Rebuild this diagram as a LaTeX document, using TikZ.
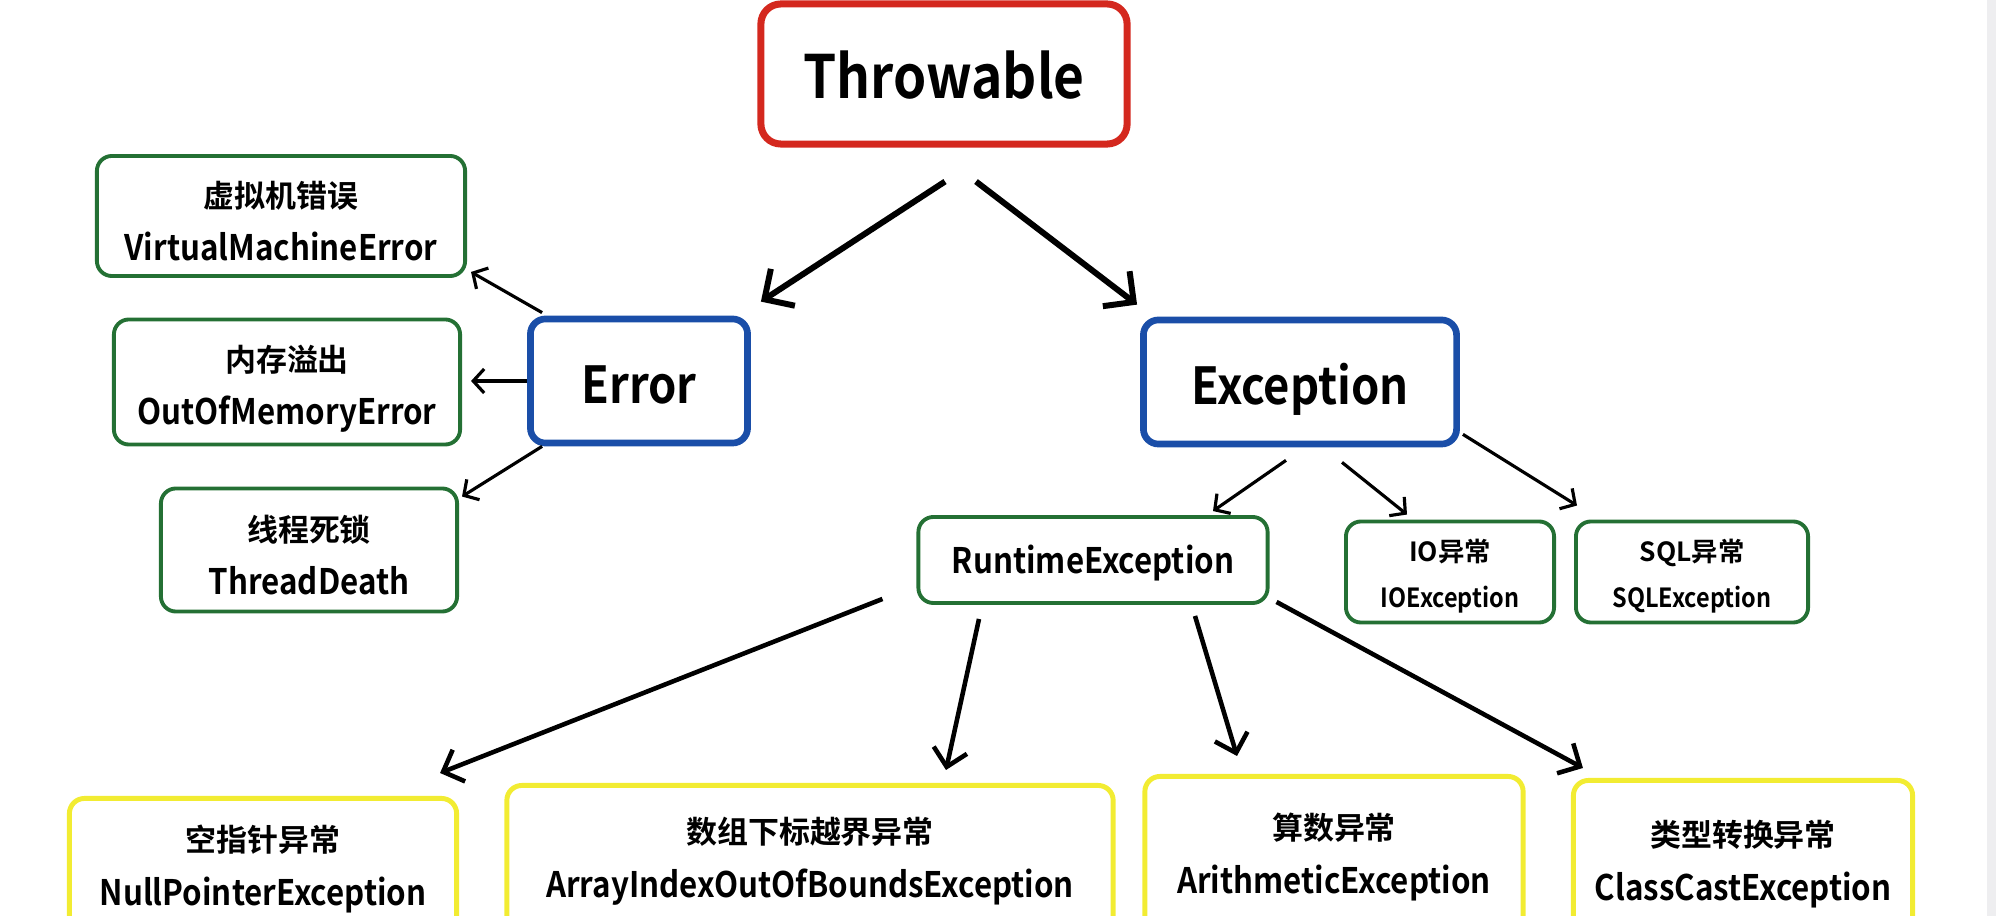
\documentclass[tikz,border=0pt]{standalone}
\usepackage{fontspec}
\setmainfont{Noto Sans CJK SC}[UprightFont=* Bold, FakeStretch=0.89]
\newfontfamily\cjkfont{Noto Sans CJK SC}[UprightFont=* Bold]
\usetikzlibrary{calc,arrows.meta}
\definecolor{thrRed}{RGB}{212,40,30}
\definecolor{errBlue}{RGB}{26,78,168}
\definecolor{subGreen}{RGB}{36,112,52}
\definecolor{rtYellow}{RGB}{242,236,50}
\definecolor{edgeGray}{RGB}{238,238,240}
\tikzset{
  box/.style={draw, rounded corners=0.15cm, inner sep=0pt, align=center},
  redbox/.style={box, text height=13.8pt, text depth=0pt, draw=thrRed, line width=2pt, rounded corners=0.2cm, font=\fontsize{17}{20}\selectfont},
  bluebox/.style={box, text height=12.6pt, text depth=0pt, draw=errBlue, line width=1.9pt, font=\fontsize{14.5}{17}\selectfont},
  greenbox/.style={box, draw=subGreen, line width=1.1pt, font=\fontsize{10}{15}\selectfont},
  smallbox/.style={box, draw=subGreen, line width=1.1pt, font=\fontsize{7.5}{13}\selectfont},
  yellowbox/.style={box, draw=rtYellow, line width=1.4pt, font=\fontsize{10}{15.5}\selectfont},
  bigarrow/.style={-{Straight Barb[length=0.22cm,width=0.44cm]}, line width=1.7pt},
  smallarrow/.style={-{Straight Barb[length=0.11cm,width=0.24cm]}, line width=0.9pt},
  midarrow/.style={-{Straight Barb[length=0.17cm,width=0.34cm]}, line width=1.3pt}
}
\newcommand{\gstrut}{\rule[-0.8pt]{0pt}{12pt}}
\newcommand{\ystrut}{\rule[-1.6pt]{0pt}{11pt}}
\newcommand{\sstrut}{\rule[-0.6pt]{0pt}{9.5pt}}
\newcommand{\twoline}[3]{#1{\cjkfont\fontsize{8.8}{15}\selectfont #2}\\#1#3}
\newcommand{\twosmall}[2]{\sstrut{\cjkfont\fontsize{7.5}{13}\selectfont #1}\\\sstrut #2}

\begin{document}
\begin{tikzpicture}[x=0.01cm,y=-0.01cm]
  %%%%% START %%%%%
  \useasboundingbox (0,0) rectangle (1996,916);
  \clip (0,0) rectangle (1996,916);
  \fill[edgeGray] (1987,0) rectangle (1996,916);

  \node[redbox, minimum width=3.66cm, minimum height=1.40cm] (thr) at (944,74) {Throwable};

  \node[bluebox, minimum width=2.17cm, minimum height=1.24cm] (err) at (639,381) {Error};
  \node[bluebox, minimum width=3.13cm, minimum height=1.24cm] (exc) at (1300,382) {Exception};

  \node[greenbox, minimum width=3.68cm, minimum height=1.20cm] (vme) at (281,216) {\twoline\gstrut{虚拟机错误}{VirtualMachineError}};
  \node[greenbox, minimum width=3.46cm, minimum height=1.25cm] (oom) at (287,382) {\twoline\gstrut{内存溢出}{OutOfMemoryError}};
  \node[greenbox, minimum width=2.96cm, minimum height=1.23cm] (td) at (309,550) {\twoline\gstrut{线程死锁}{ThreadDeath}};

  \node[greenbox, text height=7.6pt, text depth=0pt, minimum width=3.49cm, minimum height=0.86cm] (rte) at (1093,560) {RuntimeException};
  \node[smallbox, minimum width=2.08cm, minimum height=1.01cm] (ioe) at (1450,572) {\twosmall{IO异常}{IOException}};
  \node[smallbox, minimum width=2.32cm, minimum height=1.01cm] (sqle) at (1692,572) {\twosmall{SQL异常}{SQLException}};

  \node[yellowbox, minimum width=3.87cm, minimum height=1.35cm] (npe) at (263,866) {\twoline\ystrut{空指针异常}{NullPointerException}};
  \node[yellowbox, minimum width=6.06cm, minimum height=1.45cm] (aioobe) at (810,858) {\twoline\ystrut{数组下标越界异常}{ArrayIndexOutOfBoundsException}};
  \node[yellowbox, minimum width=3.78cm, minimum height=1.55cm] (ae) at (1334,854) {\twoline\ystrut{算数异常}{ArithmeticException}};
  \node[yellowbox, minimum width=3.39cm, minimum height=1.61cm] (cce) at (1743,861) {\twoline\ystrut{类型转换异常}{ClassCastException}};

  % Throwable
  \draw[bigarrow] ($(thr.south)+(1,34)$) -- ($(err.north east)+(10,-14)$);
  \draw[bigarrow] ($(thr.south)+(32,34)$) -- ($(exc.north west)+(-3,-12)$);

  % Error
  \draw[smallarrow] ($(err.north west)+(15,-3)$) -- ($(vme.south east)+(4,-6)$);
  \draw[smallarrow] (err.west) -- ($(oom.east)+(9,-1)$);
  \draw[smallarrow] ($(err.south west)+(15,0)$) -- ($(td.north east)+(3,10)$);

  % Exception
  \draw[smallarrow] ($(exc.south)+(-14,13)$) -- ($(rte.north)+(120,-4)$);
  \draw[smallarrow] ($(exc.south)+(42,15)$) -- ($(ioe.north)+(-43,-5)$);
  \draw[smallarrow] ($(exc.south east)+(3,-13)$) -- ($(sqle.north west)+(3,-14)$);

  % RuntimeException
  \draw[midarrow] ($(rte.south west)+(-34,-6)$) -- ($(npe.north east)+(-19,-23)$);
  \draw[midarrow] ($(rte.south)+(-114,14)$) -- ($(aioobe.north)+(136,-13)$);
  \draw[midarrow] ($(rte.south)+(102,11)$) -- ($(ae.north)+(-97,-18)$);
  \draw[midarrow] ($(rte.south east)+(7,-3)$) -- ($(cce.north west)+(12,-10)$);

  %%%%% END %%%%%
\end{tikzpicture}
\end{document}
